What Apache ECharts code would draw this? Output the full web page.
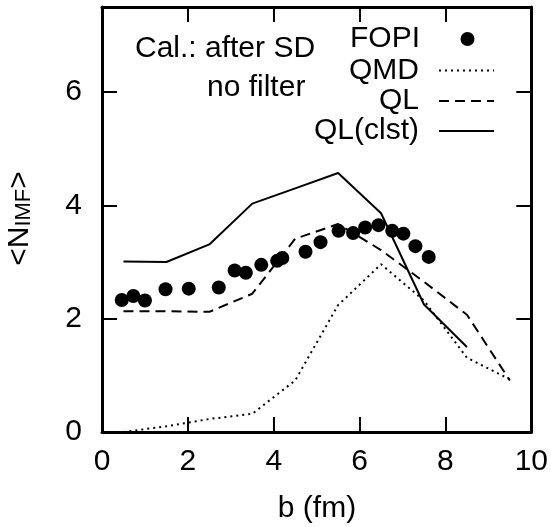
<!DOCTYPE html>
<html>
<head>
<meta charset="utf-8">
<script src="https://cdn.jsdelivr.net/npm/echarts@6/dist/echarts.min.js"></script>
<style>
  html, body { margin: 0; padding: 0; background: #fff; }
  #chart { width: 551px; height: 527px; }
</style>
</head>
<body>
<div id="chart"></div>
<script>
// ---- data ----
const xTicks = [0, 2, 4, 6, 8, 10];
const yTicks = [0, 2, 4, 6];

const fopiB = [0.46, 0.73, 1.0, 1.48, 2.02, 2.72, 3.09, 3.35, 3.71, 4.08, 4.2,
               4.74, 5.09, 5.51, 5.85, 6.13, 6.44, 6.76, 7.02, 7.3, 7.61];
const fopiN = [2.33, 2.40, 2.32, 2.52, 2.53, 2.55, 2.85, 2.81, 2.95, 3.02, 3.07,
               3.18, 3.35, 3.55, 3.51, 3.61, 3.65, 3.55, 3.50, 3.28, 3.09];

const modelB = [0.5, 1.5, 2.5, 3.5, 4.5, 5.5, 6.5, 7.5, 8.5, 9.5];
const qmdN   = [0.0, 0.10, 0.23, 0.32, 0.91, 2.24, 2.96, 2.32, 1.31, 0.93];
const qlN    = [2.13, 2.13, 2.12, 2.44, 3.41, 3.67, 3.21, 2.65, 2.07, 0.91];

const clstB  = [0.5, 1.5, 2.5, 3.5, 4.5, 5.5, 6.5, 7.5, 8.5];
const clstN  = [3.01, 3.00, 3.31, 4.03, 4.30, 4.57, 3.86, 2.25, 1.50];

const FONT = '"Liberation Sans", Arial, sans-serif';
const zip = (xs, ys) => xs.map((x, i) => [x, ys[i]]);

const chart = echarts.init(document.getElementById('chart'), null, { renderer: 'canvas' });

const axisLine = { show: true, onZero: false, lineStyle: { color: '#000', width: 3 } };
const axisTick = { show: true, inside: true, length: 15, lineStyle: { color: '#000', width: 2 } };
const labelStyle = { fontSize: 30, color: '#000', fontFamily: FONT };

function legendItem(name, rowY, iconW, padR, isLine) {
  const l = {
    data: [name],
    orient: 'vertical',
    align: 'right',
    right: iconW === 14 ? 551 - 467.5 - 7 : 56,
    top: rowY - 15,
    padding: 0,
    itemWidth: iconW,
    itemHeight: 14,
    selectedMode: false,
    textStyle: { fontSize: 30, lineHeight: 30, color: '#000', fontFamily: FONT, padding: [0, padR, 0, 0] }
  };
  if (isLine) l.itemStyle = { opacity: 0 };
  return l;
}

const option = {
  backgroundColor: '#fff',
  animation: false,
  grid: { left: 102, right: 19, top: 7, bottom: 95, containLabel: false },
  xAxis: [
    { type: 'value', min: 0, max: 10, interval: 2, position: 'bottom',
      axisLine, axisTick, splitLine: { show: false },
      axisLabel: Object.assign({ margin: 15,
        formatter: v => xTicks.includes(v) ? String(v) : '' }, labelStyle) },
    { type: 'value', min: 0, max: 10, interval: 2, position: 'top',
      axisLine, axisTick, splitLine: { show: false }, axisLabel: { show: false } }
  ],
  yAxis: [
    { type: 'value', min: 0, max: 7.5, interval: 2, position: 'left',
      axisLine, axisTick, splitLine: { show: false },
      axisLabel: Object.assign({ margin: 20,
        formatter: v => yTicks.includes(v) ? String(v) : '' }, labelStyle) },
    { type: 'value', min: 0, max: 7.5, interval: 2, position: 'right',
      axisLine, axisTick, splitLine: { show: false }, axisLabel: { show: false } }
  ],
  legend: [
    legendItem('FOPI', 39, 14, 35.5, false),
    legendItem('QMD', 70.5, 55, 15, true),
    legendItem('QL', 101, 55, 15, true),
    legendItem('QL(clst)', 131, 55, 15, true)
  ],
  graphic: [
    { type: 'text', x: 135, y: 49, silent: true,
      style: { text: 'Cal.: after SD', fontSize: 30, fontFamily: FONT, fill: '#000', align: 'left', verticalAlign: 'middle' } },
    { type: 'text', x: 207, y: 87.5, silent: true,
      style: { text: 'no filter', fontSize: 30, fontFamily: FONT, fill: '#000', align: 'left', verticalAlign: 'middle' } },
    { type: 'text', x: 317, y: 509, silent: true,
      style: { text: 'b (fm)', fontSize: 30, fontFamily: FONT, fill: '#000', align: 'center', verticalAlign: 'middle' } },
    { type: 'text', x: 20, y: 218.5, rotation: Math.PI / 2, silent: true,
      style: {
        text: '{a|<N}{s|IMF}{a|>}',
        fontFamily: FONT, fill: '#000', align: 'center', verticalAlign: 'middle',
        rich: {
          a: { fontSize: 30, lineHeight: 30, fontFamily: FONT, fill: '#000', verticalAlign: 'middle' },
          s: { fontSize: 22, lineHeight: 10, fontFamily: FONT, fill: '#000', verticalAlign: 'bottom' }
        }
      } }
  ],
  series: [
    { name: 'FOPI', type: 'scatter', data: zip(fopiB, fopiN), symbol: 'circle', symbolSize: 14,
      itemStyle: { color: '#000', opacity: 1 }, z: 3 },
    { name: 'QMD', type: 'line', data: zip(modelB, qmdN), symbol: 'none',
      lineStyle: { color: '#000', width: 2, type: [2, 4] }, itemStyle: { color: '#000' }, z: 2 },
    { name: 'QL', type: 'line', data: zip(modelB, qlN), symbol: 'none',
      lineStyle: { color: '#000', width: 2, type: [10, 6] }, itemStyle: { color: '#000' }, z: 2 },
    { name: 'QL(clst)', type: 'line', data: zip(clstB, clstN), symbol: 'none',
      lineStyle: { color: '#000', width: 2, type: 'solid' }, itemStyle: { color: '#000' }, z: 2 }
  ]
};

chart.setOption(option);
</script>
</body>
</html>
